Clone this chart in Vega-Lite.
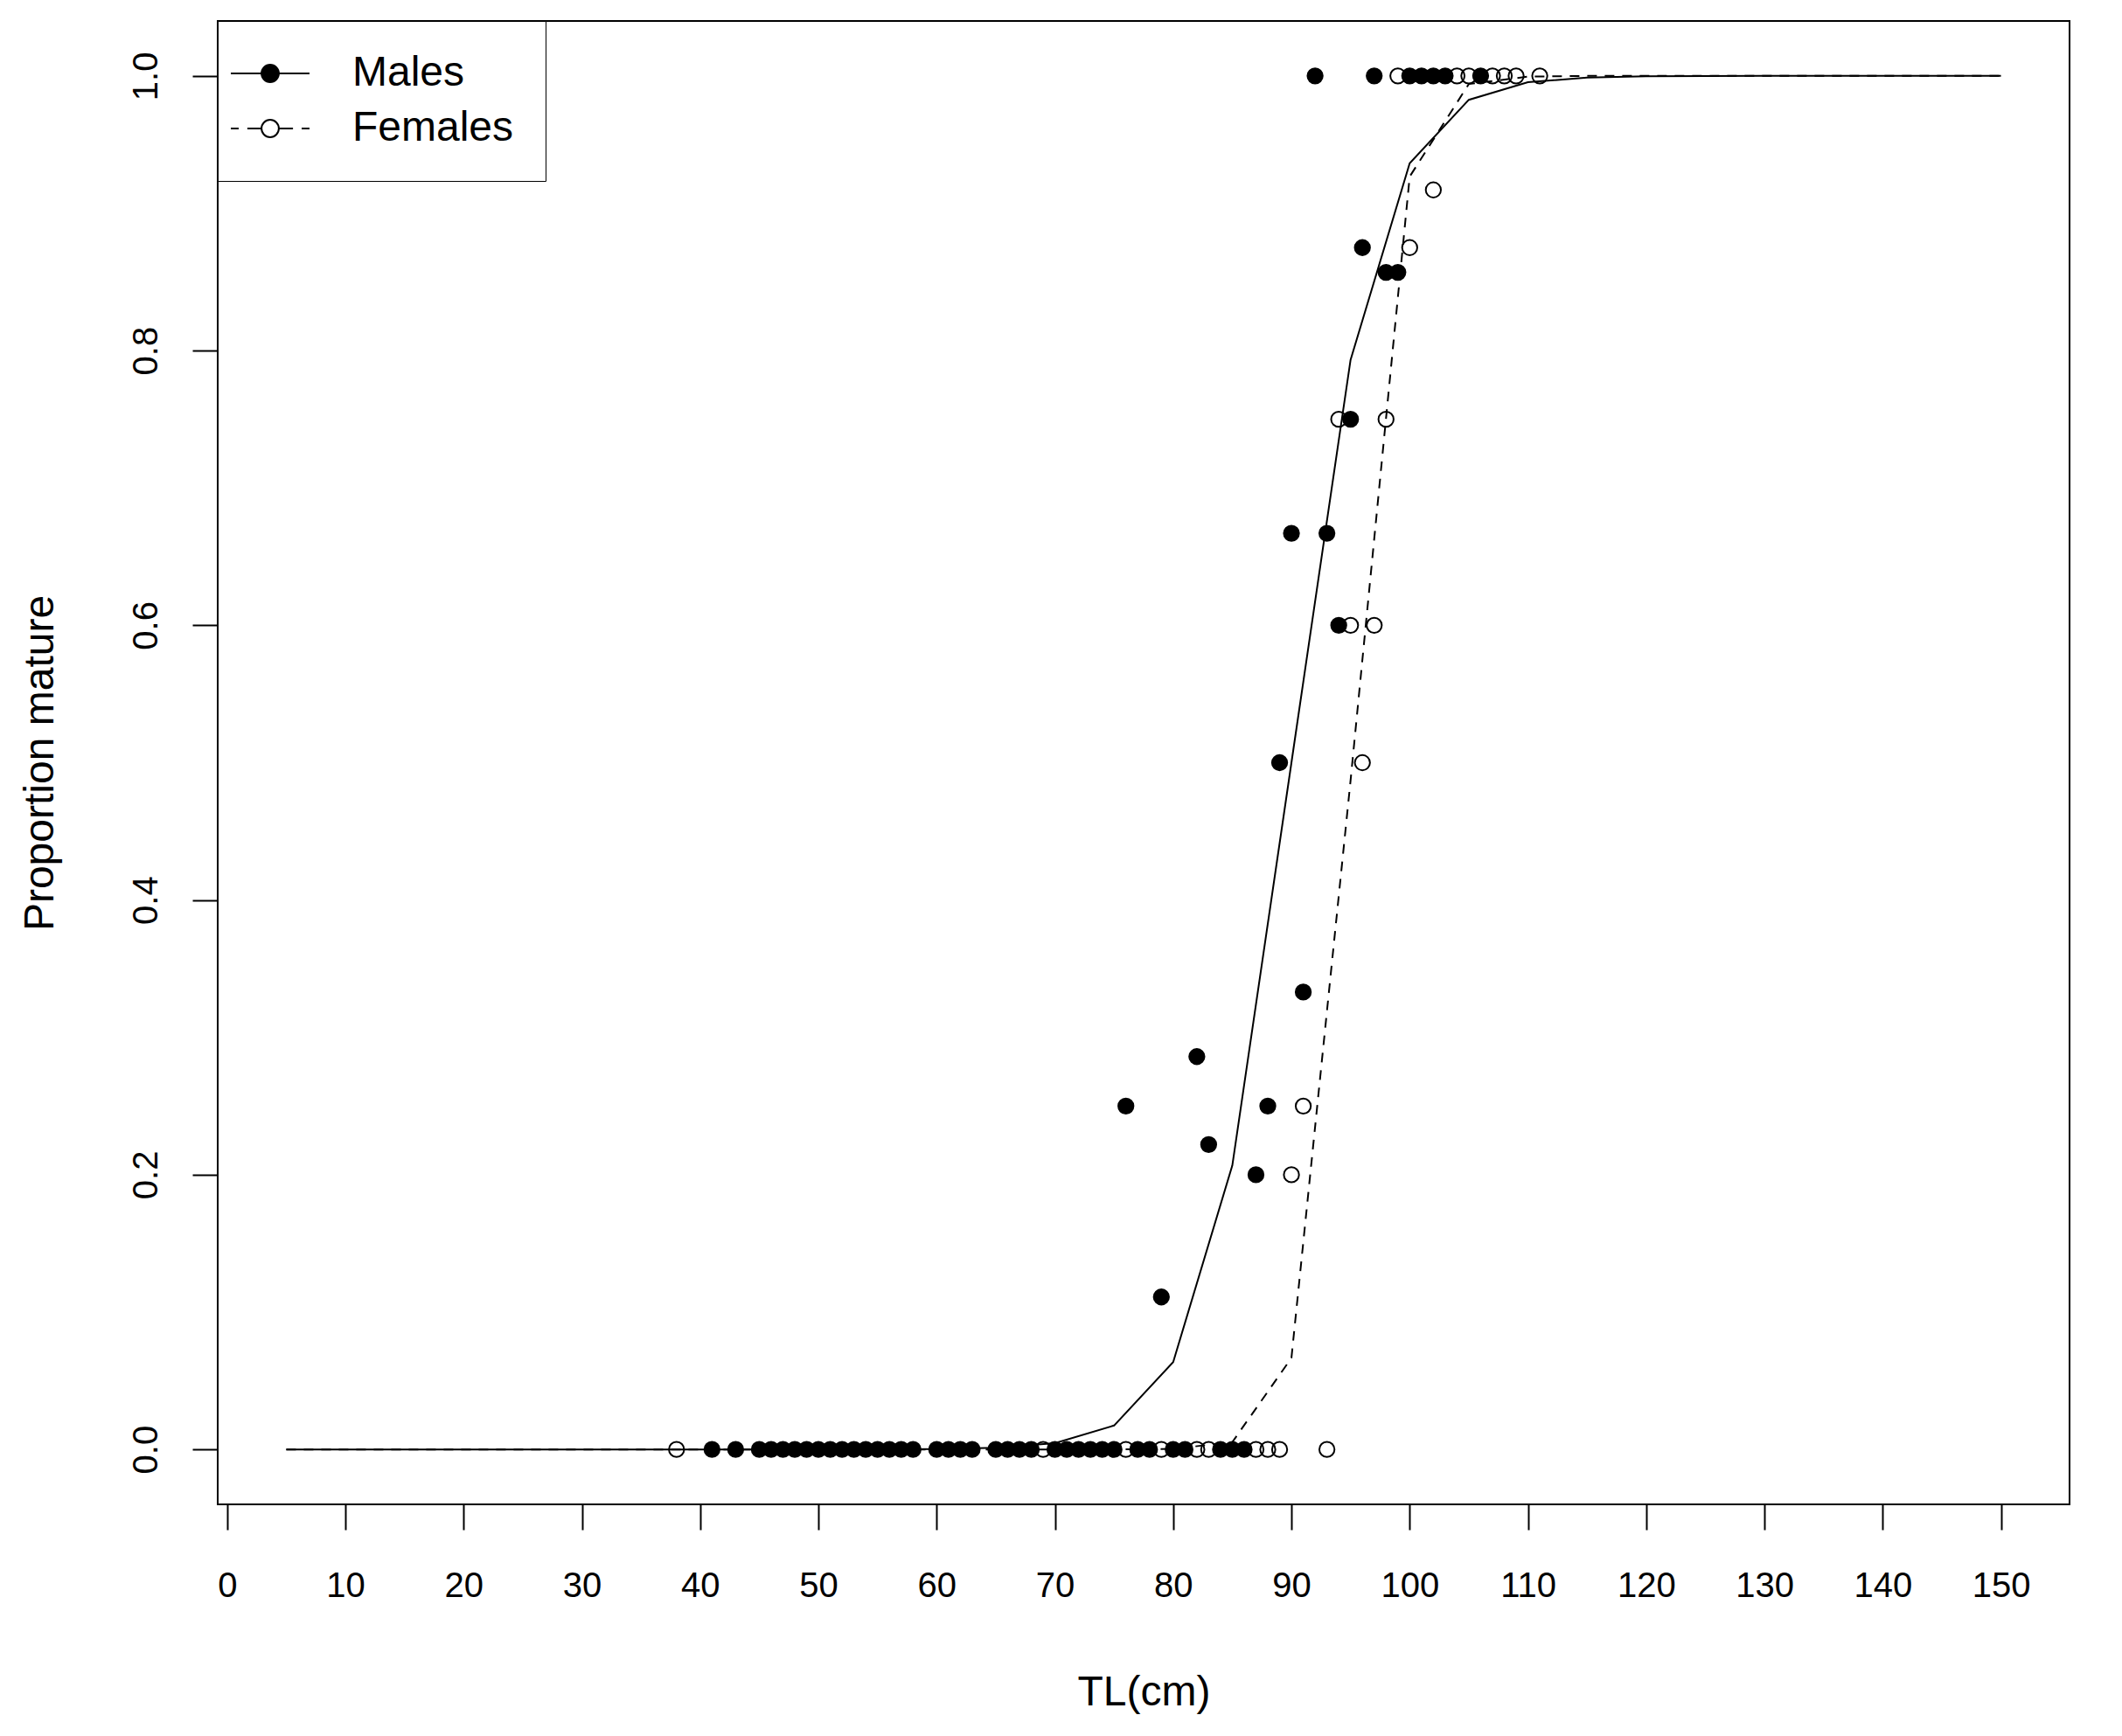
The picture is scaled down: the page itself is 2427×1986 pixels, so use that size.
{
  "$schema": "https://vega.github.io/schema/vega-lite/v6.json",
  "width": 2118,
  "height": 1697,
  "autosize": {"type": "none"},
  "padding": {"left": 249, "top": 24, "right": 60, "bottom": 265},
  "background": "white",
  "config": {
    "font": "Liberation Sans",
    "view": {"stroke": "black", "strokeWidth": 2, "fill": "white"},
    "axis": {
      "grid": false,
      "domain": false,
      "tickColor": "black",
      "tickWidth": 2,
      "tickSize": 29,
      "labelColor": "black",
      "labelFontSize": 40,
      "labelOverlap": false,
      "labelFlush": false,
      "titleColor": "black",
      "titleFontSize": 48,
      "titleFontWeight": "normal"
    },
    "legend": {
      "orient": "top-left",
      "offset": 0,
      "padding": 36,
      "fillColor": "white",
      "strokeColor": "black",
      "labelFontSize": 48,
      "labelColor": "black",
      "labelLimit": 500,
      "labelOffset": 70,
      "rowPadding": 15,
      "symbolSize": 2025,
      "symbolStrokeColor": "black",
      "symbolStrokeWidth": 2,
      "symbolOpacity": 1
    }
  },
  "datasets": {
    "curves": [
      {"TL": 5, "p": 0, "sex": "Males"}, {"TL": 10, "p": 0, "sex": "Males"},
      {"TL": 15, "p": 0, "sex": "Males"}, {"TL": 20, "p": 0, "sex": "Males"},
      {"TL": 25, "p": 0, "sex": "Males"}, {"TL": 30, "p": 0, "sex": "Males"},
      {"TL": 35, "p": 0, "sex": "Males"}, {"TL": 40, "p": 0, "sex": "Males"},
      {"TL": 45, "p": 0, "sex": "Males"}, {"TL": 50, "p": 0, "sex": "Males"},
      {"TL": 55, "p": 0.0001, "sex": "Males"}, {"TL": 60, "p": 0.0003, "sex": "Males"},
      {"TL": 65, "p": 0.0012, "sex": "Males"}, {"TL": 70, "p": 0.0046, "sex": "Males"},
      {"TL": 75, "p": 0.0174, "sex": "Males"}, {"TL": 80, "p": 0.0636, "sex": "Males"},
      {"TL": 85, "p": 0.2067, "sex": "Males"}, {"TL": 90, "p": 0.5, "sex": "Males"},
      {"TL": 95, "p": 0.7933, "sex": "Males"}, {"TL": 100, "p": 0.9364, "sex": "Males"},
      {"TL": 105, "p": 0.9826, "sex": "Males"}, {"TL": 110, "p": 0.9954, "sex": "Males"},
      {"TL": 115, "p": 0.9988, "sex": "Males"}, {"TL": 120, "p": 0.9997, "sex": "Males"},
      {"TL": 125, "p": 0.9999, "sex": "Males"}, {"TL": 130, "p": 1, "sex": "Males"},
      {"TL": 135, "p": 1, "sex": "Males"}, {"TL": 140, "p": 1, "sex": "Males"},
      {"TL": 145, "p": 1, "sex": "Males"}, {"TL": 150, "p": 1, "sex": "Males"},
      {"TL": 5, "p": 0, "sex": "Females"}, {"TL": 10, "p": 0, "sex": "Females"},
      {"TL": 15, "p": 0, "sex": "Females"}, {"TL": 20, "p": 0, "sex": "Females"},
      {"TL": 25, "p": 0, "sex": "Females"}, {"TL": 30, "p": 0, "sex": "Females"},
      {"TL": 35, "p": 0, "sex": "Females"}, {"TL": 40, "p": 0, "sex": "Females"},
      {"TL": 45, "p": 0, "sex": "Females"}, {"TL": 50, "p": 0, "sex": "Females"},
      {"TL": 55, "p": 0, "sex": "Females"}, {"TL": 60, "p": 0, "sex": "Females"},
      {"TL": 65, "p": 0, "sex": "Females"}, {"TL": 70, "p": 0, "sex": "Females"},
      {"TL": 75, "p": 0, "sex": "Females"}, {"TL": 80, "p": 0.0004, "sex": "Females"},
      {"TL": 85, "p": 0.0053, "sex": "Females"}, {"TL": 90, "p": 0.0666, "sex": "Females"},
      {"TL": 95, "p": 0.487, "sex": "Females"}, {"TL": 100, "p": 0.9267, "sex": "Females"},
      {"TL": 105, "p": 0.9941, "sex": "Females"}, {"TL": 110, "p": 0.9995, "sex": "Females"},
      {"TL": 115, "p": 1, "sex": "Females"}, {"TL": 120, "p": 1, "sex": "Females"},
      {"TL": 125, "p": 1, "sex": "Females"}, {"TL": 130, "p": 1, "sex": "Females"},
      {"TL": 135, "p": 1, "sex": "Females"}, {"TL": 140, "p": 1, "sex": "Females"},
      {"TL": 145, "p": 1, "sex": "Females"}, {"TL": 150, "p": 1, "sex": "Females"}
    ],
    "obs": [
      {"TL": 41, "p": 0, "sex": "Males"}, {"TL": 43, "p": 0, "sex": "Males"},
      {"TL": 45, "p": 0, "sex": "Males"}, {"TL": 46, "p": 0, "sex": "Males"},
      {"TL": 47, "p": 0, "sex": "Males"}, {"TL": 48, "p": 0, "sex": "Males"},
      {"TL": 49, "p": 0, "sex": "Males"}, {"TL": 50, "p": 0, "sex": "Males"},
      {"TL": 51, "p": 0, "sex": "Males"}, {"TL": 52, "p": 0, "sex": "Males"},
      {"TL": 53, "p": 0, "sex": "Males"}, {"TL": 54, "p": 0, "sex": "Males"},
      {"TL": 55, "p": 0, "sex": "Males"}, {"TL": 56, "p": 0, "sex": "Males"},
      {"TL": 57, "p": 0, "sex": "Males"}, {"TL": 58, "p": 0, "sex": "Males"},
      {"TL": 60, "p": 0, "sex": "Males"}, {"TL": 61, "p": 0, "sex": "Males"},
      {"TL": 62, "p": 0, "sex": "Males"}, {"TL": 63, "p": 0, "sex": "Males"},
      {"TL": 65, "p": 0, "sex": "Males"}, {"TL": 66, "p": 0, "sex": "Males"},
      {"TL": 67, "p": 0, "sex": "Males"}, {"TL": 68, "p": 0, "sex": "Males"},
      {"TL": 70, "p": 0, "sex": "Males"}, {"TL": 71, "p": 0, "sex": "Males"},
      {"TL": 72, "p": 0, "sex": "Males"}, {"TL": 73, "p": 0, "sex": "Males"},
      {"TL": 74, "p": 0, "sex": "Males"}, {"TL": 75, "p": 0, "sex": "Males"},
      {"TL": 76, "p": 0.25, "sex": "Males"}, {"TL": 77, "p": 0, "sex": "Males"},
      {"TL": 78, "p": 0, "sex": "Males"}, {"TL": 79, "p": 0.111, "sex": "Males"},
      {"TL": 80, "p": 0, "sex": "Males"}, {"TL": 81, "p": 0, "sex": "Males"},
      {"TL": 82, "p": 0.286, "sex": "Males"}, {"TL": 83, "p": 0.222, "sex": "Males"},
      {"TL": 84, "p": 0, "sex": "Males"}, {"TL": 85, "p": 0, "sex": "Males"},
      {"TL": 86, "p": 0, "sex": "Males"}, {"TL": 87, "p": 0.2, "sex": "Males"},
      {"TL": 88, "p": 0.25, "sex": "Males"}, {"TL": 89, "p": 0.5, "sex": "Males"},
      {"TL": 90, "p": 0.667, "sex": "Males"}, {"TL": 91, "p": 0.333, "sex": "Males"},
      {"TL": 92, "p": 1, "sex": "Males"}, {"TL": 93, "p": 0.667, "sex": "Males"},
      {"TL": 94, "p": 0.6, "sex": "Males"}, {"TL": 95, "p": 0.75, "sex": "Males"},
      {"TL": 96, "p": 0.875, "sex": "Males"}, {"TL": 97, "p": 1, "sex": "Males"},
      {"TL": 98, "p": 0.857, "sex": "Males"}, {"TL": 99, "p": 0.857, "sex": "Males"},
      {"TL": 100, "p": 1, "sex": "Males"}, {"TL": 101, "p": 1, "sex": "Males"},
      {"TL": 102, "p": 1, "sex": "Males"}, {"TL": 103, "p": 1, "sex": "Males"},
      {"TL": 106, "p": 1, "sex": "Males"},
      {"TL": 38, "p": 0, "sex": "Females"}, {"TL": 69, "p": 0, "sex": "Females"},
      {"TL": 76, "p": 0, "sex": "Females"}, {"TL": 79, "p": 0, "sex": "Females"},
      {"TL": 82, "p": 0, "sex": "Females"}, {"TL": 83, "p": 0, "sex": "Females"},
      {"TL": 87, "p": 0, "sex": "Females"}, {"TL": 88, "p": 0, "sex": "Females"},
      {"TL": 89, "p": 0, "sex": "Females"}, {"TL": 90, "p": 0.2, "sex": "Females"},
      {"TL": 91, "p": 0.25, "sex": "Females"}, {"TL": 93, "p": 0, "sex": "Females"},
      {"TL": 94, "p": 0.75, "sex": "Females"}, {"TL": 95, "p": 0.6, "sex": "Females"},
      {"TL": 96, "p": 0.5, "sex": "Females"}, {"TL": 97, "p": 0.6, "sex": "Females"},
      {"TL": 98, "p": 0.75, "sex": "Females"}, {"TL": 99, "p": 1, "sex": "Females"},
      {"TL": 100, "p": 0.875, "sex": "Females"}, {"TL": 102, "p": 0.917, "sex": "Females"},
      {"TL": 104, "p": 1, "sex": "Females"}, {"TL": 105, "p": 1, "sex": "Females"},
      {"TL": 107, "p": 1, "sex": "Females"}, {"TL": 108, "p": 1, "sex": "Females"},
      {"TL": 109, "p": 1, "sex": "Females"}, {"TL": 111, "p": 1, "sex": "Females"}
    ]
  },
  "encoding": {
    "x": {
      "field": "TL",
      "type": "quantitative",
      "scale": {"domain": [-0.8, 155.8], "nice": false, "zero": false},
      "axis": {
        "title": "TL(cm)",
        "values": [0, 10, 20, 30, 40, 50, 60, 70, 80, 90, 100, 110, 120, 130, 140, 150],
        "labelPadding": 44,
        "titleY": 229,
        "titleBaseline": "alphabetic"
      }
    },
    "y": {
      "field": "p",
      "type": "quantitative",
      "scale": {"domain": [-0.04, 1.04], "nice": false, "zero": false},
      "axis": {
        "title": "Proportion mature",
        "values": [0, 0.2, 0.4, 0.6, 0.8, 1],
        "format": ".1f",
        "labelAngle": 270,
        "labelAlign": "center",
        "labelBaseline": "alphabetic",
        "labelPadding": 41,
        "titleX": -189,
        "titleBaseline": "alphabetic"
      }
    }
  },
  "layer": [
    {
      "data": {"name": "curves"},
      "transform": [{"filter": "datum.sex === 'Males'"}],
      "mark": {"type": "line", "color": "black", "strokeWidth": 2},
      "encoding": {}
    },
    {
      "data": {"name": "curves"},
      "transform": [{"filter": "datum.sex === 'Females'"}],
      "mark": {"type": "line", "color": "black", "strokeWidth": 2, "strokeDash": [11, 9]},
      "encoding": {}
    },
    {
      "data": {"name": "obs"},
      "mark": {"type": "point", "shape": "circle", "size": 300, "stroke": "black", "strokeWidth": 2, "opacity": 1},
      "encoding": {
        "fill": {
          "field": "sex",
          "type": "nominal",
          "scale": {"domain": ["Males", "Females"], "range": ["black", "transparent"]},
          "legend": {"title": null}
        }
      }
    },
    {
      "data": {"name": "obs"},
      "mark": {"type": "point", "opacity": 0, "size": 300},
      "encoding": {
        "shape": {
          "field": "sex",
          "type": "nominal",
          "scale": {
            "domain": ["Males", "Females"],
            "range": [
              "M -2 0 L -0.44 0 M 0.44 0 L 2 0 M 0.44 0 A 0.44 0.44 0 1 1 -0.44 0 A 0.44 0.44 0 1 1 0.44 0 Z",
              "M -2 0 L -1.6 0 M -1.16 0 L -0.44 0 M 0.44 0 L 1.16 0 M 1.6 0 L 2 0 M 0.44 0 A 0.44 0.44 0 1 1 -0.44 0 A 0.44 0.44 0 1 1 0.44 0 Z"
            ]
          },
          "legend": {"title": null}
        }
      }
    }
  ]
}
